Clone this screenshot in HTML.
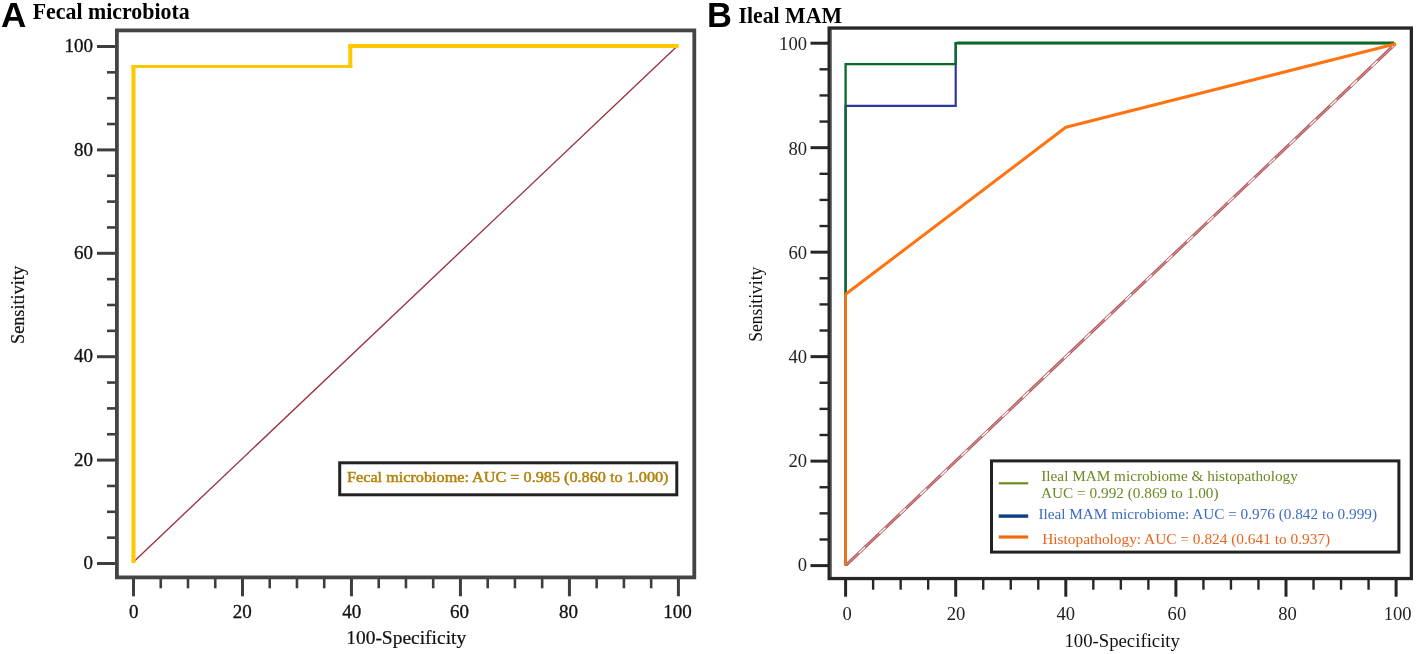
<!DOCTYPE html><html><head><meta charset="utf-8"><title>ROC curves</title><style>html,body{margin:0;padding:0;background:#fff;width:1418px;height:654px;overflow:hidden}svg{display:block;will-change:transform}text{font-family:"Liberation Serif",serif}</style></head><body>
<svg width="1418" height="654" viewBox="0 0 1418 654">
<rect x="0" y="0" width="1418" height="654" fill="#fff"/>
<line x1="97" y1="563.5" x2="116" y2="563.5" stroke="#3e3e40" stroke-width="3"/>
<line x1="133.5" y1="578.3" x2="133.5" y2="596.3" stroke="#3e3e40" stroke-width="3"/>
<line x1="107" y1="537.65" x2="116" y2="537.65" stroke="#3e3e40" stroke-width="2.6"/>
<line x1="160.75" y1="578.3" x2="160.75" y2="588.3" stroke="#3e3e40" stroke-width="2.6"/>
<line x1="107" y1="511.8" x2="116" y2="511.8" stroke="#3e3e40" stroke-width="2.6"/>
<line x1="187.99" y1="578.3" x2="187.99" y2="588.3" stroke="#3e3e40" stroke-width="2.6"/>
<line x1="107" y1="485.95" x2="116" y2="485.95" stroke="#3e3e40" stroke-width="2.6"/>
<line x1="215.24" y1="578.3" x2="215.24" y2="588.3" stroke="#3e3e40" stroke-width="2.6"/>
<line x1="97" y1="460.1" x2="116" y2="460.1" stroke="#3e3e40" stroke-width="3"/>
<line x1="242.48" y1="578.3" x2="242.48" y2="596.3" stroke="#3e3e40" stroke-width="3"/>
<line x1="107" y1="434.25" x2="116" y2="434.25" stroke="#3e3e40" stroke-width="2.6"/>
<line x1="269.73" y1="578.3" x2="269.73" y2="588.3" stroke="#3e3e40" stroke-width="2.6"/>
<line x1="107" y1="408.4" x2="116" y2="408.4" stroke="#3e3e40" stroke-width="2.6"/>
<line x1="296.97" y1="578.3" x2="296.97" y2="588.3" stroke="#3e3e40" stroke-width="2.6"/>
<line x1="107" y1="382.55" x2="116" y2="382.55" stroke="#3e3e40" stroke-width="2.6"/>
<line x1="324.22" y1="578.3" x2="324.22" y2="588.3" stroke="#3e3e40" stroke-width="2.6"/>
<line x1="97" y1="356.7" x2="116" y2="356.7" stroke="#3e3e40" stroke-width="3"/>
<line x1="351.46" y1="578.3" x2="351.46" y2="596.3" stroke="#3e3e40" stroke-width="3"/>
<line x1="107" y1="330.85" x2="116" y2="330.85" stroke="#3e3e40" stroke-width="2.6"/>
<line x1="378.71" y1="578.3" x2="378.71" y2="588.3" stroke="#3e3e40" stroke-width="2.6"/>
<line x1="107" y1="305" x2="116" y2="305" stroke="#3e3e40" stroke-width="2.6"/>
<line x1="405.95" y1="578.3" x2="405.95" y2="588.3" stroke="#3e3e40" stroke-width="2.6"/>
<line x1="107" y1="279.15" x2="116" y2="279.15" stroke="#3e3e40" stroke-width="2.6"/>
<line x1="433.19" y1="578.3" x2="433.19" y2="588.3" stroke="#3e3e40" stroke-width="2.6"/>
<line x1="97" y1="253.3" x2="116" y2="253.3" stroke="#3e3e40" stroke-width="3"/>
<line x1="460.44" y1="578.3" x2="460.44" y2="596.3" stroke="#3e3e40" stroke-width="3"/>
<line x1="107" y1="227.45" x2="116" y2="227.45" stroke="#3e3e40" stroke-width="2.6"/>
<line x1="487.69" y1="578.3" x2="487.69" y2="588.3" stroke="#3e3e40" stroke-width="2.6"/>
<line x1="107" y1="201.6" x2="116" y2="201.6" stroke="#3e3e40" stroke-width="2.6"/>
<line x1="514.93" y1="578.3" x2="514.93" y2="588.3" stroke="#3e3e40" stroke-width="2.6"/>
<line x1="107" y1="175.75" x2="116" y2="175.75" stroke="#3e3e40" stroke-width="2.6"/>
<line x1="542.17" y1="578.3" x2="542.17" y2="588.3" stroke="#3e3e40" stroke-width="2.6"/>
<line x1="97" y1="149.9" x2="116" y2="149.9" stroke="#3e3e40" stroke-width="3"/>
<line x1="569.42" y1="578.3" x2="569.42" y2="596.3" stroke="#3e3e40" stroke-width="3"/>
<line x1="107" y1="124.05" x2="116" y2="124.05" stroke="#3e3e40" stroke-width="2.6"/>
<line x1="596.66" y1="578.3" x2="596.66" y2="588.3" stroke="#3e3e40" stroke-width="2.6"/>
<line x1="107" y1="98.2" x2="116" y2="98.2" stroke="#3e3e40" stroke-width="2.6"/>
<line x1="623.91" y1="578.3" x2="623.91" y2="588.3" stroke="#3e3e40" stroke-width="2.6"/>
<line x1="107" y1="72.35" x2="116" y2="72.35" stroke="#3e3e40" stroke-width="2.6"/>
<line x1="651.15" y1="578.3" x2="651.15" y2="588.3" stroke="#3e3e40" stroke-width="2.6"/>
<line x1="97" y1="46.5" x2="116" y2="46.5" stroke="#3e3e40" stroke-width="3"/>
<line x1="678.4" y1="578.3" x2="678.4" y2="596.3" stroke="#3e3e40" stroke-width="3"/>
<rect x="116.9" y="30.4" width="577.4" height="547" fill="none" stroke="#444446" stroke-width="3.8"/>
<text x="92.9" y="569.1" font-size="18" text-anchor="end" fill="#111" stroke="#111" stroke-width="0.3" textLength="9.5" lengthAdjust="spacingAndGlyphs">0</text>
<text x="133.7" y="617.6" font-size="18" text-anchor="middle" fill="#111" stroke="#111" stroke-width="0.3" textLength="9.5" lengthAdjust="spacingAndGlyphs">0</text>
<text x="92.9" y="465.7" font-size="18" text-anchor="end" fill="#111" stroke="#111" stroke-width="0.3" textLength="19.0" lengthAdjust="spacingAndGlyphs">20</text>
<text x="242.38" y="617.6" font-size="18" text-anchor="middle" fill="#111" stroke="#111" stroke-width="0.3" textLength="19.0" lengthAdjust="spacingAndGlyphs">20</text>
<text x="92.9" y="362.3" font-size="18" text-anchor="end" fill="#111" stroke="#111" stroke-width="0.3" textLength="19.0" lengthAdjust="spacingAndGlyphs">40</text>
<text x="351.66" y="617.6" font-size="18" text-anchor="middle" fill="#111" stroke="#111" stroke-width="0.3" textLength="19.0" lengthAdjust="spacingAndGlyphs">40</text>
<text x="92.9" y="258.9" font-size="18" text-anchor="end" fill="#111" stroke="#111" stroke-width="0.3" textLength="19.0" lengthAdjust="spacingAndGlyphs">60</text>
<text x="459.64" y="617.6" font-size="18" text-anchor="middle" fill="#111" stroke="#111" stroke-width="0.3" textLength="19.0" lengthAdjust="spacingAndGlyphs">60</text>
<text x="92.9" y="155.5" font-size="18" text-anchor="end" fill="#111" stroke="#111" stroke-width="0.3" textLength="19.0" lengthAdjust="spacingAndGlyphs">80</text>
<text x="568.42" y="617.6" font-size="18" text-anchor="middle" fill="#111" stroke="#111" stroke-width="0.3" textLength="19.0" lengthAdjust="spacingAndGlyphs">80</text>
<text x="92.9" y="52.1" font-size="18" text-anchor="end" fill="#111" stroke="#111" stroke-width="0.3" textLength="28.5" lengthAdjust="spacingAndGlyphs">100</text>
<text x="677.6" y="617.6" font-size="18" text-anchor="middle" fill="#111" stroke="#111" stroke-width="0.3" textLength="28.5" lengthAdjust="spacingAndGlyphs">100</text>
<path d="M134.5,560.9 L676,47.2" stroke="#9a3040" stroke-width="1.35" fill="none"/>
<g stroke="#FFC800" fill="none"><line x1="133.5" y1="563" x2="133.5" y2="64.9" stroke-width="4.1"/><line x1="131.45" y1="66.4" x2="352.3" y2="66.4" stroke-width="3"/><line x1="350.3" y1="67.9" x2="350.3" y2="44.1" stroke-width="4"/><line x1="348.3" y1="46.05" x2="678.7" y2="46.05" stroke-width="3.9"/></g>
<rect x="339.7" y="462.8" width="337.1" height="32" fill="#fff" stroke="#222" stroke-width="3"/>
<text x="347" y="482.3" font-size="15.6" fill="#b3820b" stroke="#b3820b" stroke-width="0.5" textLength="321.5" lengthAdjust="spacingAndGlyphs">Fecal microbiome: AUC = 0.985 (0.860 to 1.000)</text>
<text x="0" y="0" font-size="19" fill="#111" stroke="#111" stroke-width="0.2" text-anchor="middle" transform="translate(23.9,305) rotate(-90)" textLength="78" lengthAdjust="spacingAndGlyphs">Sensitivity</text>
<text x="406.2" y="644.2" font-size="18" fill="#111" stroke="#111" stroke-width="0.2" text-anchor="middle" textLength="120" lengthAdjust="spacingAndGlyphs">100-Specificity</text>
<text x="0.9" y="26.8" font-size="35" font-weight="bold" style="font-family:'Liberation Sans',sans-serif" fill="#000">A</text>
<text x="32.7" y="18.9" font-size="22.5" font-weight="bold" fill="#000" textLength="157" lengthAdjust="spacingAndGlyphs">Fecal microbiota</text>
<text x="707.0" y="26.6" font-size="34.5" font-weight="bold" style="font-family:'Liberation Sans',sans-serif" fill="#000">B</text>
<text x="738.5" y="22.8" font-size="22.5" font-weight="bold" fill="#000" textLength="103.5" lengthAdjust="spacingAndGlyphs">Ileal MAM</text>
<line x1="810.5" y1="565.6" x2="828.5" y2="565.6" stroke="#262626" stroke-width="3"/>
<line x1="845.6" y1="579.2" x2="845.6" y2="596.7" stroke="#262626" stroke-width="3"/>
<line x1="819.5" y1="539.48" x2="828.5" y2="539.48" stroke="#262626" stroke-width="2.4"/>
<line x1="873.12" y1="579.2" x2="873.12" y2="589.7" stroke="#262626" stroke-width="2.4"/>
<line x1="819.5" y1="513.36" x2="828.5" y2="513.36" stroke="#262626" stroke-width="2.4"/>
<line x1="900.65" y1="579.2" x2="900.65" y2="589.7" stroke="#262626" stroke-width="2.4"/>
<line x1="819.5" y1="487.24" x2="828.5" y2="487.24" stroke="#262626" stroke-width="2.4"/>
<line x1="928.17" y1="579.2" x2="928.17" y2="589.7" stroke="#262626" stroke-width="2.4"/>
<line x1="810.5" y1="461.12" x2="828.5" y2="461.12" stroke="#262626" stroke-width="3"/>
<line x1="955.7" y1="579.2" x2="955.7" y2="596.7" stroke="#262626" stroke-width="3"/>
<line x1="819.5" y1="435" x2="828.5" y2="435" stroke="#262626" stroke-width="2.4"/>
<line x1="983.23" y1="579.2" x2="983.23" y2="589.7" stroke="#262626" stroke-width="2.4"/>
<line x1="819.5" y1="408.88" x2="828.5" y2="408.88" stroke="#262626" stroke-width="2.4"/>
<line x1="1010.75" y1="579.2" x2="1010.75" y2="589.7" stroke="#262626" stroke-width="2.4"/>
<line x1="819.5" y1="382.76" x2="828.5" y2="382.76" stroke="#262626" stroke-width="2.4"/>
<line x1="1038.28" y1="579.2" x2="1038.28" y2="589.7" stroke="#262626" stroke-width="2.4"/>
<line x1="810.5" y1="356.64" x2="828.5" y2="356.64" stroke="#262626" stroke-width="3"/>
<line x1="1065.8" y1="579.2" x2="1065.8" y2="596.7" stroke="#262626" stroke-width="3"/>
<line x1="819.5" y1="330.52" x2="828.5" y2="330.52" stroke="#262626" stroke-width="2.4"/>
<line x1="1093.33" y1="579.2" x2="1093.33" y2="589.7" stroke="#262626" stroke-width="2.4"/>
<line x1="819.5" y1="304.4" x2="828.5" y2="304.4" stroke="#262626" stroke-width="2.4"/>
<line x1="1120.85" y1="579.2" x2="1120.85" y2="589.7" stroke="#262626" stroke-width="2.4"/>
<line x1="819.5" y1="278.28" x2="828.5" y2="278.28" stroke="#262626" stroke-width="2.4"/>
<line x1="1148.38" y1="579.2" x2="1148.38" y2="589.7" stroke="#262626" stroke-width="2.4"/>
<line x1="810.5" y1="252.16" x2="828.5" y2="252.16" stroke="#262626" stroke-width="3"/>
<line x1="1175.9" y1="579.2" x2="1175.9" y2="596.7" stroke="#262626" stroke-width="3"/>
<line x1="819.5" y1="226.04" x2="828.5" y2="226.04" stroke="#262626" stroke-width="2.4"/>
<line x1="1203.42" y1="579.2" x2="1203.42" y2="589.7" stroke="#262626" stroke-width="2.4"/>
<line x1="819.5" y1="199.92" x2="828.5" y2="199.92" stroke="#262626" stroke-width="2.4"/>
<line x1="1230.95" y1="579.2" x2="1230.95" y2="589.7" stroke="#262626" stroke-width="2.4"/>
<line x1="819.5" y1="173.8" x2="828.5" y2="173.8" stroke="#262626" stroke-width="2.4"/>
<line x1="1258.47" y1="579.2" x2="1258.47" y2="589.7" stroke="#262626" stroke-width="2.4"/>
<line x1="810.5" y1="147.68" x2="828.5" y2="147.68" stroke="#262626" stroke-width="3"/>
<line x1="1286" y1="579.2" x2="1286" y2="596.7" stroke="#262626" stroke-width="3"/>
<line x1="819.5" y1="121.56" x2="828.5" y2="121.56" stroke="#262626" stroke-width="2.4"/>
<line x1="1313.53" y1="579.2" x2="1313.53" y2="589.7" stroke="#262626" stroke-width="2.4"/>
<line x1="819.5" y1="95.44" x2="828.5" y2="95.44" stroke="#262626" stroke-width="2.4"/>
<line x1="1341.05" y1="579.2" x2="1341.05" y2="589.7" stroke="#262626" stroke-width="2.4"/>
<line x1="819.5" y1="69.32" x2="828.5" y2="69.32" stroke="#262626" stroke-width="2.4"/>
<line x1="1368.57" y1="579.2" x2="1368.57" y2="589.7" stroke="#262626" stroke-width="2.4"/>
<line x1="810.5" y1="43.2" x2="828.5" y2="43.2" stroke="#262626" stroke-width="3"/>
<line x1="1396.1" y1="579.2" x2="1396.1" y2="596.7" stroke="#262626" stroke-width="3"/>
<rect x="829.15" y="28.05" width="582.2" height="550.5" fill="none" stroke="#262626" stroke-width="3.3"/>
<line x1="831.3" y1="28" x2="831.3" y2="579" stroke="#2a2a2a" stroke-width="0.8"/>
<text x="807" y="571.3" font-size="18.5" text-anchor="end" fill="#222" textLength="9.3" lengthAdjust="spacingAndGlyphs">0</text>
<text x="847.1" y="620.2" font-size="18.5" text-anchor="middle" fill="#222" textLength="9.3" lengthAdjust="spacingAndGlyphs">0</text>
<text x="807" y="467.1" font-size="18.5" text-anchor="end" fill="#222" textLength="18.6" lengthAdjust="spacingAndGlyphs">20</text>
<text x="956" y="620.2" font-size="18.5" text-anchor="middle" fill="#222" textLength="18.6" lengthAdjust="spacingAndGlyphs">20</text>
<text x="807" y="362.9" font-size="18.5" text-anchor="end" fill="#222" textLength="18.6" lengthAdjust="spacingAndGlyphs">40</text>
<text x="1065.8" y="620.2" font-size="18.5" text-anchor="middle" fill="#222" textLength="18.6" lengthAdjust="spacingAndGlyphs">40</text>
<text x="807" y="258.7" font-size="18.5" text-anchor="end" fill="#222" textLength="18.6" lengthAdjust="spacingAndGlyphs">60</text>
<text x="1176.9" y="620.2" font-size="18.5" text-anchor="middle" fill="#222" textLength="18.6" lengthAdjust="spacingAndGlyphs">60</text>
<text x="807" y="154.5" font-size="18.5" text-anchor="end" fill="#222" textLength="18.6" lengthAdjust="spacingAndGlyphs">80</text>
<text x="1287.5" y="620.2" font-size="18.5" text-anchor="middle" fill="#222" textLength="18.6" lengthAdjust="spacingAndGlyphs">80</text>
<text x="807" y="50.3" font-size="18.5" text-anchor="end" fill="#222" textLength="27.900000000000002" lengthAdjust="spacingAndGlyphs">100</text>
<text x="1397.6" y="620.2" font-size="18.5" text-anchor="middle" fill="#222" textLength="27.900000000000002" lengthAdjust="spacingAndGlyphs">100</text>
<path d="M846.1,565.1 L1395.1,44.2" stroke="#b4585c" stroke-width="3" fill="none"/>
<path d="M846.1,565.1 L1395.1,44.2" stroke="#e4b4b4" stroke-width="0.8" fill="none"/>
<path d="M846.1,565.1 L1395.1,44.2" stroke="#fff" stroke-width="1.4" fill="none" stroke-dasharray="8.4 19.86" stroke-dashoffset="10.66"/>
<path d="M845.6,565.6 V105.89 H955.7 V43.2 H1394.1" stroke="#2c3a9a" stroke-width="2.2" fill="none"/>
<path d="M845.6,565.6 V64.1 H955.7 V43.2 H1394.1" stroke="#0a6a26" stroke-width="2.3" fill="none"/>
<path d="M956.7,42.9 H1394.1" stroke="#0a6a26" stroke-width="2.9" fill="none"/>
<path d="M845.6,565.6 V293.95" stroke="#ff7410" stroke-width="2.6" fill="none"/>
<path d="M845.6,294.25 L1065.8,127.28 L1396.1,43.7" stroke="#ff7410" stroke-width="3" fill="none" stroke-linejoin="round"/>
<rect x="991.5" y="460.9" width="407.4" height="91.2" fill="#fff" stroke="#222" stroke-width="3"/>
<line x1="998.7" y1="483.3" x2="1028.2" y2="483.3" stroke="#6e8b1e" stroke-width="2.2"/>
<line x1="998.7" y1="516.1" x2="1028.2" y2="516.1" stroke="#0e3e80" stroke-width="3.4"/>
<line x1="998.7" y1="537" x2="1028.2" y2="537" stroke="#f26a10" stroke-width="3.2"/>
<text x="1041.3" y="480.8" font-size="15.5" fill="#6a8a22" textLength="256.5" lengthAdjust="spacingAndGlyphs">Ileal MAM microbiome &amp; histopathology</text>
<text x="1041" y="498" font-size="15.5" fill="#6a8a22" textLength="177.6" lengthAdjust="spacingAndGlyphs">AUC = 0.992 (0.869 to 1.00)</text>
<text x="1038.4" y="518.8" font-size="15.5" fill="#3c6dbe" textLength="338.6" lengthAdjust="spacingAndGlyphs">Ileal MAM microbiome: AUC = 0.976 (0.842 to 0.999)</text>
<text x="1042.2" y="543.9" font-size="15.5" fill="#e8651e" textLength="288" lengthAdjust="spacingAndGlyphs">Histopathology: AUC = 0.824 (0.641 to 0.937)</text>
<text x="0" y="0" font-size="18" fill="#111" text-anchor="middle" transform="translate(762.2,304.2) rotate(-90)" textLength="75" lengthAdjust="spacingAndGlyphs">Sensitivity</text>
<text x="1122.2" y="647.3" font-size="18" fill="#111" text-anchor="middle" textLength="115.5" lengthAdjust="spacingAndGlyphs">100-Specificity</text>
</svg></body></html>
